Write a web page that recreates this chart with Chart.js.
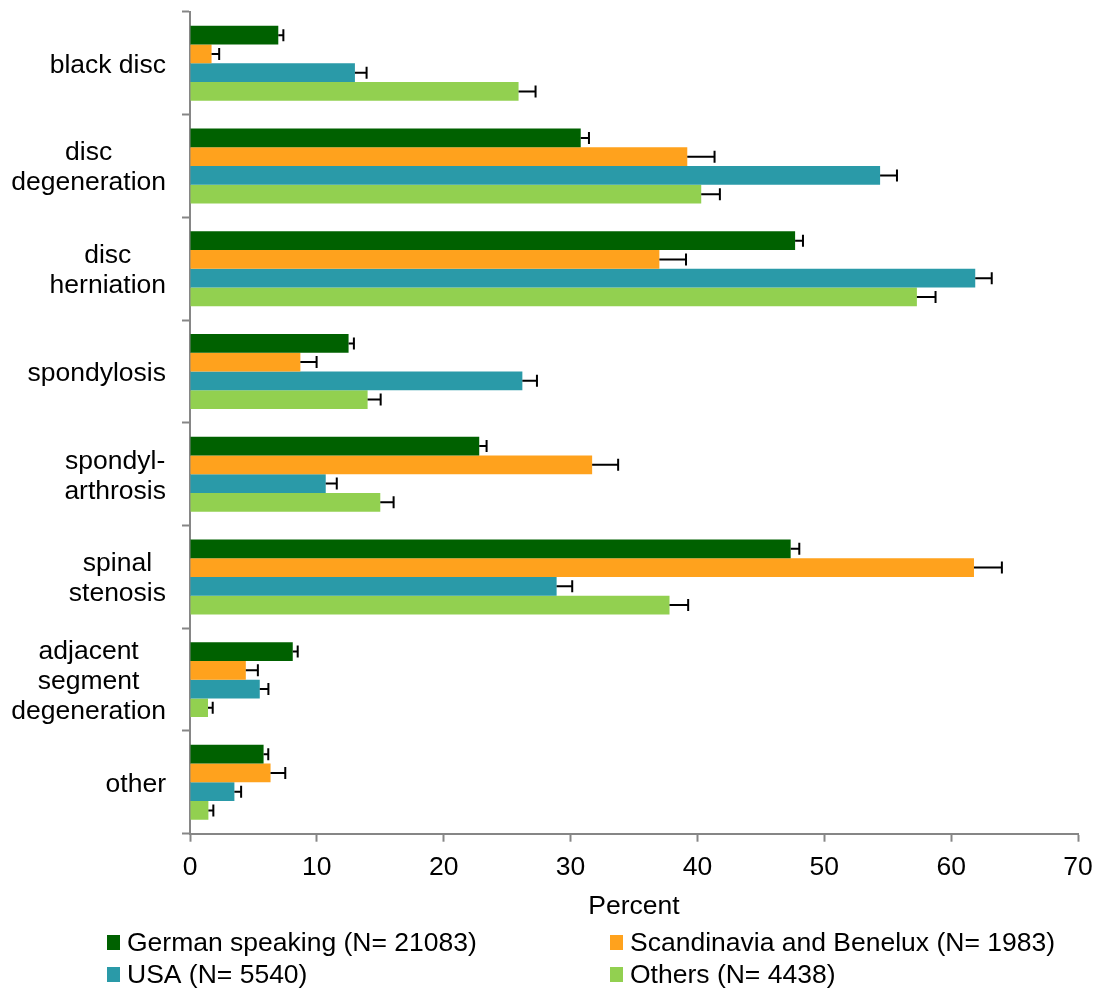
<!DOCTYPE html>
<html>
<head>
<meta charset="utf-8">
<title>Diagnoses by region</title>
<script src="https://cdn.jsdelivr.net/npm/chart.js@4/dist/chart.umd.min.js"></script>
<style>
  html, body { margin: 0; padding: 0; background: #fff; }
  #wrap { width: 1099px; height: 991px; }
</style>
</head>
<body>
<div id="wrap"><canvas id="diagChart" width="1099" height="991"></canvas></div>
<script>
// Category labels (one entry per line of the label)
const categories = [
  ['black disc'],
  ['disc', 'degeneration'],
  ['disc', 'herniation'],
  ['spondylosis'],
  ['spondyl-', 'arthrosis'],
  ['spinal', 'stenosis'],
  ['adjacent', 'segment', 'degeneration'],
  ['other']
];

const seriesNames = [
  'German speaking (N= 21083)',
  'Scandinavia and Benelux (N= 1983)',
  'USA (N= 5540)',
  'Others (N= 4438)'
];

// Percent values
const germanValues = [6.96, 30.8, 47.7, 12.5, 22.8, 47.35, 8.1, 5.8];
const scandValues = [1.7, 39.2, 37.0, 8.7, 31.7, 61.8, 4.4, 6.35];
const usaValues = [13.0, 54.4, 61.9, 26.2, 10.7, 28.9, 5.5, 3.5];
const othersValues = [25.9, 40.3, 57.3, 14.0, 15.0, 37.8, 1.42, 1.45];

// Error bar half-widths (positive side only is drawn)
const germanErr = [0.4, 0.65, 0.62, 0.42, 0.58, 0.68, 0.39, 0.37];
const scandErr = [0.6, 2.15, 2.1, 1.28, 2.05, 2.2, 0.95, 1.16];
const usaErr = [0.92, 1.33, 1.3, 1.15, 0.87, 1.23, 0.68, 0.53];
const othersErr = [1.34, 1.47, 1.47, 1.03, 1.05, 1.47, 0.37, 0.39];

const xTicks = [0, 10, 20, 30, 40, 50, 60, 70];

const colors = ['#006100', '#FFA21D', '#2A9AA8', '#92D050'];

const FONT = "'Liberation Sans', Arial, sans-serif";
const FONT_SIZE = 26.5;
const AXIS_GRAY = '#868686';

Chart.defaults.font.family = FONT;
Chart.defaults.font.size = FONT_SIZE;
Chart.defaults.color = '#000';

// Draw error bars to the right of every bar
const errorBars = {
  id: 'errorBars',
  afterDatasetsDraw(chart) {
    const ctx = chart.ctx;
    const xScale = chart.scales.x;
    ctx.save();
    ctx.strokeStyle = '#000';
    ctx.lineWidth = 2;
    chart.data.datasets.forEach((ds, i) => {
      const meta = chart.getDatasetMeta(i);
      meta.data.forEach((bar, j) => {
        const end = xScale.getPixelForValue(ds.data[j] + ds.errors[j]);
        ctx.beginPath();
        ctx.moveTo(bar.x, bar.y);
        ctx.lineTo(end, bar.y);
        ctx.moveTo(end, bar.y - 6);
        ctx.lineTo(end, bar.y + 6);
        ctx.stroke();
      });
    });
    ctx.restore();
  }
};

// Category labels: block right-aligned to the axis, lines centred in the block
const categoryLabels = {
  id: 'categoryLabels',
  afterDraw(chart) {
    const ctx = chart.ctx;
    const yScale = chart.scales.y;
    const right = chart.chartArea.left - 24;
    const lineH = 30;
    ctx.save();
    ctx.font = FONT_SIZE + 'px ' + FONT;
    ctx.fillStyle = '#000';
    ctx.textAlign = 'center';
    ctx.textBaseline = 'middle';
    chart.data.labels.forEach((lines, i) => {
      const py = yScale.getPixelForTick(i);
      const w = Math.max(...lines.map(l => ctx.measureText(l).width));
      const cx = right - w / 2;
      lines.forEach((l, k) => {
        ctx.fillText(l, cx, py + (k - (lines.length - 1) / 2) * lineH + 2);
      });
    });
    ctx.restore();
  }
};

// Two-column legend under the axis title
const gridLegend = {
  id: 'gridLegend',
  afterDraw(chart) {
    const ctx = chart.ctx;
    const colX = [107, 610];
    const rowY = [943, 975];
    ctx.save();
    ctx.font = FONT_SIZE + 'px ' + FONT;
    ctx.textBaseline = 'middle';
    ctx.textAlign = 'left';
    chart.data.datasets.forEach((ds, i) => {
      const x = colX[i % 2];
      const y = rowY[Math.floor(i / 2)];
      ctx.fillStyle = ds.backgroundColor;
      ctx.fillRect(x, y - 8, 13, 15);
      ctx.fillStyle = '#000';
      ctx.fillText(ds.label, x + 20, y + 1);
    });
    ctx.restore();
  }
};

const valueSets = [germanValues, scandValues, usaValues, othersValues];
const errorSets = [germanErr, scandErr, usaErr, othersErr];

const ctx = document.getElementById('diagChart').getContext('2d');
const diagChart = new Chart(ctx, {
  type: 'bar',
  data: {
    labels: categories,
    datasets: seriesNames.map((name, i) => ({
      label: name,
      data: valueSets[i],
      errors: errorSets[i],
      backgroundColor: colors[i],
      borderWidth: 0,
      barPercentage: 1.0,
      categoryPercentage: 0.73
    }))
  },
  options: {
    indexAxis: 'y',
    responsive: false,
    animation: false,
    layout: { padding: { left: 182, right: 21, top: 12, bottom: 67 } },
    plugins: {
      legend: { display: false },
      tooltip: { enabled: false }
    },
    scales: {
      x: {
        min: 0,
        max: 70,
        afterBuildTicks(scale) {
          scale.ticks = xTicks.map(v => ({ value: v }));
        },
        afterFit(scale) {
          // let the layout padding alone decide the plot edges
          scale.paddingLeft = 0;
          scale.paddingRight = 0;
        },
        grid: {
          drawOnChartArea: false,
          drawTicks: true,
          tickLength: 8,
          tickWidth: 2,
          tickColor: AXIS_GRAY
        },
        border: { color: AXIS_GRAY, width: 2 },
        ticks: { padding: 10, color: '#000' },
        title: {
          display: true,
          text: 'Percent',
          color: '#000',
          font: { size: FONT_SIZE, lineHeight: 1 },
          padding: { top: 0, bottom: 4 }
        }
      },
      y: {
        grid: {
          offset: true,
          drawOnChartArea: false,
          drawTicks: true,
          tickLength: 8,
          tickWidth: 2,
          tickColor: AXIS_GRAY
        },
        border: { color: AXIS_GRAY, width: 2 },
        ticks: { display: false }
      }
    }
  },
  plugins: [errorBars, categoryLabels, gridLegend]
});
</script>
</body>
</html>
